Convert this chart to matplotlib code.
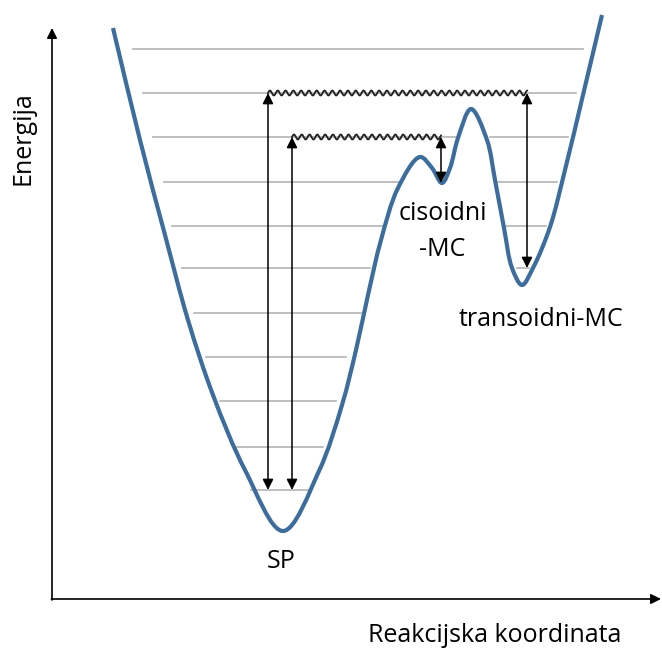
import numpy as np
import matplotlib
matplotlib.use("Agg")
import matplotlib.pyplot as plt
from matplotlib.path import Path
from matplotlib.patches import PathPatch

plt.rcParams['font.family'] = ['Open Sans', 'DejaVu Sans']

# potential energy curve (pixel units, y down)
curve_x = [113, 140, 165, 188, 213, 245, 283, 319, 342, 356, 368, 381, 398,
           420, 432, 442, 450, 458, 471, 487, 495, 504, 512, 522, 533, 550,
           565, 583, 602]
curve_y = [28, 140, 235, 320, 395, 470, 531, 471, 405, 350, 295, 240, 188,
           157, 168, 183, 168, 138, 109, 140, 180, 228, 268, 285, 268, 227,
           170, 95, 15]

# vibrational levels: y and the visible segments
level_y = [49, 93, 137, 182, 226, 268, 313, 357, 401, 447, 490]
level_segs = [
    [(133, 583)],
    [(143, 576)],
    [(153, 458), (490, 568)],
    [(164, 400), (498, 557)],
    [(172, 383), (506, 546)],
    [(182, 370), (517, 529)],
    [(194, 361)],
    [(206, 346)],
    [(220, 336)],
    [(234, 323)],
    [(251, 310)],
]

# wavy (non-radiative) lines: x start, x end, y
wavy = [(268, 527, 93), (292, 441, 137)]
# double arrows: x, y top, y bottom
arrows = [(268, 93, 490), (292, 137, 490), (441, 137, 183), (527, 93, 268)]

labels = [("cisoidni", 443, 213), ("-MC", 442, 250),
          ("transoidni-MC", 541, 320), ("SP", 281, 562)]

fig = plt.figure(figsize=(6.62, 6.48), dpi=100)
ax = fig.add_axes([0, 0, 1, 1])
ax.set_xlim(0, 662)
ax.set_ylim(648, 0)
ax.axis("off")

# levels
for y, segs in zip(level_y, level_segs):
    for x0, x1 in segs:
        ax.plot([x0, x1], [y, y], color="#b4b4b4", lw=1.2, zorder=1)

# smooth curve through the points (centripetal Catmull-Rom as cubic Bezier)
P = np.column_stack([curve_x, curve_y]).astype(float)
verts = [P[0]]
codes = [Path.MOVETO]
n = len(P)
for i in range(n - 1):
    p1, p2 = P[i], P[i + 1]
    p0 = P[i - 1] if i > 0 else 2 * p1 - p2
    p3 = P[i + 2] if i + 2 < n else 2 * p2 - p1
    d1 = np.linalg.norm(p1 - p0) ** 0.5
    d2 = np.linalg.norm(p2 - p1) ** 0.5
    d3 = np.linalg.norm(p3 - p2) ** 0.5
    c1 = (d1**2 * p2 - d2**2 * p0 + (2 * d1**2 + 3 * d1 * d2 + d2**2) * p1) / (3 * d1 * (d1 + d2))
    c2 = (d3**2 * p1 - d2**2 * p3 + (2 * d3**2 + 3 * d3 * d2 + d2**2) * p2) / (3 * d3 * (d3 + d2))
    verts += [c1, c2, p2]
    codes += [Path.CURVE4] * 3
ax.add_patch(PathPatch(Path(verts, codes), fill=False, edgecolor="#3d6d9c",
                       lw=3.0, capstyle="butt", zorder=3))

# wavy lines
period = 7.8
for x0, x1, y in wavy:
    t = np.linspace(x0, x1, 1000)
    ax.plot(t, y - 2.5 * np.sin(2 * np.pi * (t - x0) / period), color="#222222",
            lw=1.3, zorder=4)

# arrows
for x, yt, yb in arrows:
    ax.annotate("", xy=(x, yt), xytext=(x, yb),
                arrowprops=dict(arrowstyle="<|-|>", color="black", lw=1.1,
                                mutation_scale=16, shrinkA=0, shrinkB=0),
                zorder=5)

# coordinate axes
ax.annotate("", xy=(52, 28), xytext=(52, 600),
            arrowprops=dict(arrowstyle="-|>", color="black", lw=1.2,
                            mutation_scale=15, shrinkA=0, shrinkB=0))
ax.annotate("", xy=(661, 599), xytext=(51.4, 599),
            arrowprops=dict(arrowstyle="-|>", color="black", lw=1.2,
                            mutation_scale=15, shrinkA=0, shrinkB=0))

ax.text(23, 138, "Energija", rotation=90, ha="center", va="center", fontsize=18)
ax.text(495, 636, "Reakcijska koordinata", ha="center", va="center", fontsize=18)
for s, x, y in labels:
    ax.text(x, y, s, ha="center", va="center", fontsize=18)

fig.savefig("out.png", dpi=100)
